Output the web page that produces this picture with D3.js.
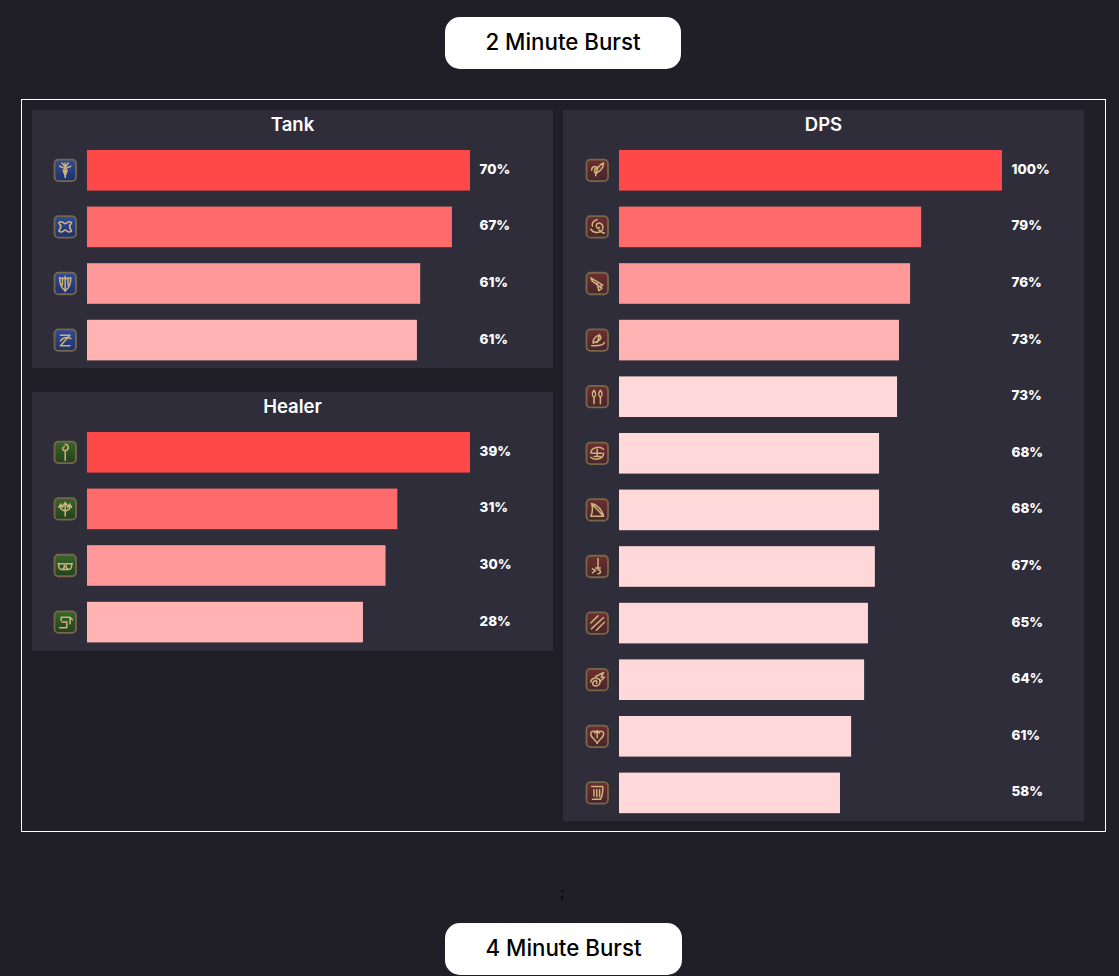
<!DOCTYPE html>
<html>
<head>
<meta charset="utf-8">
<script src="https://cdn.jsdelivr.net/npm/d3@7"></script>
<style>
  html, body { margin: 0; padding: 0; background: #201f28; overflow: hidden; }
  text { font-family: Inter, "Open Sans", sans-serif; }
</style>
</head>
<body>
<div id="chart"></div>
<script>
// values, labels are what the chart prints
var tankIcons = ["star", "wave", "shield", "zed"];
var tankValues = [70, 66.7, 60.9, 60.3];
var tankLabels = ["70%", "67%", "61%", "61%"];

var healerIcons = ["staff", "trident", "scales", "book"];
var healerValues = [39, 31.6, 30.4, 28.1];
var healerLabels = ["39%", "31%", "30%", "28%"];

var dpsIcons = ["feather", "swirl", "gun", "horn", "twin", "ring", "bow", "blade", "claws", "comet", "spade", "harp"];
var dpsValues = [100, 78.9, 76, 73.1, 72.6, 67.9, 67.9, 66.8, 65, 64, 60.6, 57.7];
var dpsLabels = ["100%", "79%", "76%", "73%", "73%", "68%", "68%", "67%", "65%", "64%", "61%", "58%"];

var rankColors = ["#ff4949", "#ff6b6b", "#ff9999", "#ffb3b3", "#ffd9d9"];

// little job glyphs, drawn in a 24x24 box
var glyphs = {
  star: "M12 3V21M5 7L12 10L19 7M8 3L12 8L16 3M9.5 12L12 19L14.5 12Z",
  wave: "M4 7C8 3 10 8 12 8C14 8 16 3 20 7C17 10 17 14 20 17C16 21 14 16 12 16C10 16 8 21 4 17C7 14 7 10 4 7Z",
  shield: "M5 5C9 6 15 6 19 5C19 12 17 18 12 21C7 18 5 12 5 5ZM12 3V22M8.5 6V14M15.5 6V14",
  zed: "M6 6H18L6 19H18M6 13C10 8 14 8 19 10",
  staff: "M12 10V22M12 2C17 3 17 9 12 10C8 10 8 6 11 5",
  trident: "M12 4V21M9.5 8L12 4L14.5 8M6.5 6V12L12 15M17.5 6V12L12 15M4 10L6.5 6L9 10M15 10L17.5 6L20 10",
  scales: "M3 10H21M4 10C3 19 11 19 11 12M13 12C13 19 21 19 20 10M9 17H15",
  book: "M7 6H18V14M7 6V10M5 19H14V12H8M18 6L21 9",
  feather: "M20 3C14 5 11 11 10 19M20 3C20 9 15 14 10 16M5 12C5 7 10 6 13 9C9 9 8 11 9 15",
  swirl: "M4 15C8 21 17 20 19 14C20 9 15 6 12 8C9 11 12 15 15 13M12 3C7 4 5 8 6 11M21 20C18 19 16 18 14 16",
  gun: "M4 5L19 14L15 16L6 9ZM12 12L14 21L18 18L15 16",
  horn: "M5 19C10 19 19 20 21 15M7 16C6 10 12 5 16 7C18 10 13 15 8 15M12 15L15 5",
  twin: "M8 4C5 8 5 10 8 13C11 10 11 8 8 4ZM16 4C13 8 13 10 16 13C19 10 19 8 16 4ZM8 13V21M16 13V21",
  ring: "M4 12C4 5 14 2 20 7M20 12C20 19 10 22 4 17M6 12H18M12 7V16M8 16H16",
  bow: "M5 4L20 20M5 4C7 11 6 16 4 20L20 20M5 4C12 5 18 12 20 20",
  blade: "M13 2V15M10 14H16M6 15L10 17L6 20M13 16C17 16 17 21 13 21",
  claws: "M4 12L13 3M5 19L20 5M11 21L21 11",
  comet: "M4 15C4 10 11 8 15 12C17 16 14 20 10 20C6 20 5 16 8 14C10 12 13 14 11 17M10 8L20 3L17 9L21 9L15 15",
  spade: "M12 21C9 15 3 13 4 8C5 5 10 5 12 8C14 5 19 5 20 8C21 13 15 15 12 21ZM12 5V14M9 8L12 5L15 8",
  harp: "M5 4H19C19 9 19 16 16 20H6M8 8V16M11.5 8V17M15 8V17"
};

var pageWidth = 1119, pageHeight = 976;
var barLength = 383, iconSize = 21.5, step = 56.6, barHeight = 40.6;

var svg = d3.select("#chart").append("svg")
    .attr("width", pageWidth)
    .attr("height", pageHeight)
    .style("display", "block");

var defs = svg.append("defs");

// one soft vertical gradient for each role
[["tankFill", "#2f4d9a", "#1f3068"],
 ["healerFill", "#38662b", "#23401e"],
 ["dpsFill", "#6f2e2e", "#46262b"]].forEach(function (g) {
    var grad = defs.append("linearGradient")
        .attr("id", g[0])
        .attr("x1", 0).attr("y1", 0)
        .attr("x2", 0).attr("y2", 1);
    grad.append("stop").attr("offset", "0%").attr("stop-color", g[1]);
    grad.append("stop").attr("offset", "100%").attr("stop-color", g[2]);
});

function button(x, y, w, h, label) {
    var g = svg.append("g").attr("transform", "translate(" + x + "," + y + ")");
    g.append("rect")
        .attr("width", w)
        .attr("height", h)
        .attr("rx", 15)
        .attr("fill", "#fff");
    g.append("text")
        .attr("x", w / 2)
        .attr("y", h / 2 - 1)
        .attr("dy", "0.36em")
        .attr("text-anchor", "middle")
        .attr("font-size", 22.3)
        .attr("font-weight", 500)
        .attr("fill", "#000")
        .text(label);
}

function panel(x, y, w, h, title, icons, values, labels, fillId, barLeft) {
    var g = svg.append("g").attr("transform", "translate(" + x + "," + y + ")");

    g.append("rect")
        .attr("width", w)
        .attr("height", h)
        .attr("fill", "#2f2d3a");

    g.append("text")
        .attr("x", w / 2)
        .attr("y", 14)
        .attr("dy", "0.36em")
        .attr("text-anchor", "middle")
        .attr("font-size", 18.5)
        .attr("font-weight", 600)
        .attr("fill", "#fff")
        .text(title);

    var xScale = d3.scaleLinear()
        .domain([0, d3.max(values)])
        .range([0, barLength]);

    var yScale = d3.scaleBand()
        .domain(d3.range(values.length))
        .range([40, 40 + step * (values.length - 1) + barHeight])
        .paddingInner((step - barHeight) / step)
        .paddingOuter(0);

    var rows = g.selectAll(".row")
        .data(values)
        .enter().append("g")
        .attr("class", "row")
        .attr("transform", function (d, i) { return "translate(" + barLeft + "," + yScale(i) + ")"; });

    rows.append("rect")
        .attr("class", "bar")
        .attr("width", function (d) { return xScale(d); })
        .attr("height", yScale.bandwidth())
        .attr("fill", function (d, i) { return rankColors[Math.min(i, rankColors.length - 1)]; });

    rows.append("text")
        .attr("x", barLength + 9.6)
        .attr("y", yScale.bandwidth() / 2 - 0.5)
        .attr("dy", "0.3em")
        .attr("font-size", 13.4)
        .attr("font-weight", 800)
        .attr("fill", "#fff")
        .text(function (d, i) { return labels[i]; });

    var icon = rows.append("g")
        .attr("transform", "translate(" + (-33) + "," + (yScale.bandwidth() / 2 - iconSize / 2 - 0.5) + ")");

    icon.append("rect")
        .attr("x", 0.5).attr("y", 0.5)
        .attr("width", iconSize)
        .attr("height", iconSize)
        .attr("rx", 4)
        .attr("fill", "url(#" + fillId + ")")
        .attr("stroke", "#77674a")
        .attr("stroke-width", 1.8);

    icon.append("path")
        .attr("transform", "translate(1.6,1.6) scale(0.8)")
        .attr("d", function (d, i) { return glyphs[icons[i]]; })
        .attr("fill", "none")
        .attr("stroke", "#cdb27b")
        .attr("stroke-width", 1.9)
        .attr("stroke-linejoin", "round")
        .attr("stroke-linecap", "round");
}

button(445, 17, 236, 52, "2 Minute Burst");

svg.append("rect")
    .attr("x", 21.5)
    .attr("y", 99.5)
    .attr("width", 1084)
    .attr("height", 732)
    .attr("fill", "none")
    .attr("stroke", "#fff");

panel(32, 110, 521, 258, "Tank", tankIcons, tankValues, tankLabels, "tankFill", 55);
panel(32, 392, 521, 259, "Healer", healerIcons, healerValues, healerLabels, "healerFill", 55);
panel(563, 110, 521, 711, "DPS", dpsIcons, dpsValues, dpsLabels, "dpsFill", 56);

// stray semicolon that sits between the two sections
svg.append("text")
    .attr("x", 562.5)
    .attr("y", 898)
    .attr("text-anchor", "middle")
    .attr("font-size", 15)
    .attr("fill", "#000")
    .text(";");

button(445, 923, 237, 52, "4 Minute Burst");
</script>
</body>
</html>
